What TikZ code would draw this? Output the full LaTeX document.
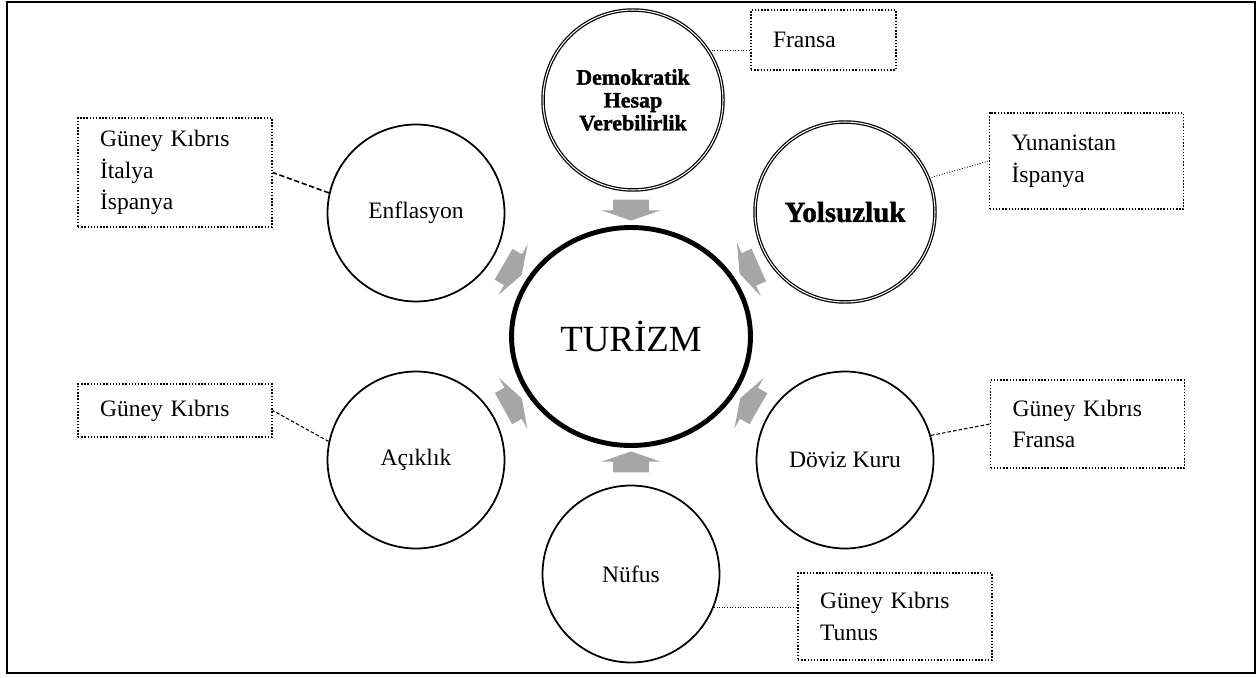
\documentclass[tikz,border=0pt]{standalone}
\usepackage{fontspec}
\setmainfont{Liberation Serif}
\newfontfamily\heavyserif[BoldFeatures={FakeBold=1.5}]{Liberation Serif}
\usetikzlibrary{shapes.geometric,shapes.arrows,positioning}
\tikzset{
    factor/.style={
        circle,
        draw,
        line width=1pt,
        minimum size=3.54cm,
        inner sep=0pt,
        font=\fontsize{13.4}{16}\selectfont
    },
    factorD/.style={
        circle,
        draw,
        double,
        double distance=0.6pt,
        line width=0.7pt,
        minimum size=3.6cm,
        inner sep=0pt,
        align=center
    },
    core/.style={
        ellipse,
        draw,
        line width=2.8pt,
        minimum width=4.78cm,
        minimum height=4.36cm,
        font=\fontsize{21}{25}\selectfont
    },
    country/.style={
        rectangle,
        draw,
        densely dotted,
        line width=0.8pt,
        inner xsep=0.44cm,
        inner ysep=0pt,
        text width=3cm,
        align=left,
        font=\fontsize{13.4}{18}\selectfont
    },
    flow/.style={
        single arrow,
        fill=black!35,
        inner xsep=0pt,
        inner ysep=0.35cm,
        minimum height=0.42cm,
        single arrow head extend=0.23cm,
        single arrow tip angle=142
    },
    linkdot/.style={
        densely dotted,
        line width=0.5pt
    },
    linkdash/.style={
        dash pattern=on 2pt off 1.2pt,
        line width=0.6pt
    }
}

\begin{document}
\begin{tikzpicture}[x=0.02cm,y=0.02cm]
    \useasboundingbox (0,0) rectangle (1260,677);
    \draw[line width=1.2pt] (7,4) rectangle (1255,675);

    \node [core] (turizm) at (631,340.5) {TURİZM};
    \node [factorD,font=\heavyserif\bfseries\fontsize{12.5}{13}\selectfont] (demo) at (633,577) {Demokratik\\Hesap\\Verebilirlik};
    \node [factorD,font=\heavyserif\bfseries\fontsize{16.5}{18}\selectfont] (yol) at (845,465) {Yolsuzluk};
    \node [factor] (enf) at (416,464) {Enflasyon};
    \node [factor] (acik) at (416,217) {Açıklık};
    \node [factor] (doviz) at (845,217) {Döviz Kuru};
    \node [factor] (nufus) at (631,103) {Nüfus};

    \node [country,text width=2.02cm,minimum height=1.2cm] (bdemo) at (823.5,637) {Fransa};
    \node [country,minimum height=1.92cm] (byol) at (1086.5,516) {Yunanistan\\İspanya};
    \node [country,minimum height=2.18cm] (benf) at (175,504.5) {Güney Kıbrıs\\İtalya\\İspanya};
    \node [country,minimum height=1.06cm] (bacik) at (175,266.5) {Güney Kıbrıs};
    \node [country,minimum height=1.76cm] (bdoviz) at (1087.5,253) {Güney Kıbrıs\\Fransa};
    \node [country,minimum height=1.74cm] (bnufus) at (895,60.5) {Güney Kıbrıs\\Tunus};

    \node [flow,rotate=-90] (fdemo) at (631,470) {};
    \node [flow,rotate=90] (fnufus) at (631,212) {};
    \node [flow,rotate=-30] (fenf) at (510,409) {};
    \node [flow,rotate=-156] (fyol) at (752,409) {};
    \node [flow,rotate=29] (facik) at (510,272) {};
    \node [flow,rotate=150] (fdoviz) at (752,272) {};

    \draw[linkdot] (demo.33) -- (demo.33 -| bdemo.west);
    \draw[linkdot] (yol.22) -- (byol.west);
    \draw[linkdash,line width=0.9pt,dash pattern=on 3pt off 1.5pt] (enf.167) -- (benf.east);
    \draw[linkdash] (acik.168) -- (bacik.east);
    \draw[linkdash] (doviz.16) -- (bdoviz.west);
    \draw[linkdot] (nufus.-22) -- (nufus.-22 -| bnufus.west);
\end{tikzpicture}
\end{document}
